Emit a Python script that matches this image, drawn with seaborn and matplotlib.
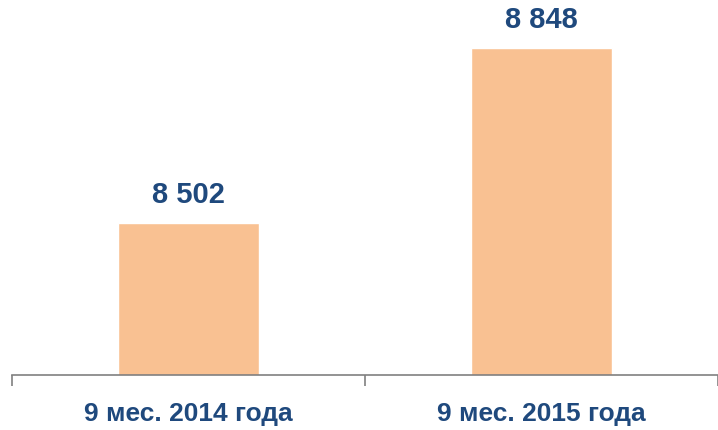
import matplotlib
matplotlib.use('Agg')
import matplotlib.pyplot as plt
import seaborn as sns
import pandas as pd

# данные
categories = ['9 мес. 2014 года', '9 мес. 2015 года']
values = [8502, 8848]
value_labels = ['8 502', '8 848']

bar_color = '#F9C192'
text_color = '#1F497D'

sns.set_style('white')
plt.rcParams['font.family'] = ['Liberation Sans', 'DejaVu Sans']

df = pd.DataFrame({'period': categories, 'value': values})

fig = plt.figure(figsize=(7.18, 4.31), dpi=100)
ax = fig.add_axes([0.0167, 0.1276, 0.9833, 0.8724])

sns.barplot(data=df, x='period', y='value', color=bar_color, width=0.4,
            saturation=1, ax=ax)

ax.set_ylim(8200, 8945)
ax.set_xlim(-0.5, 1.5)

for i, (v, lab) in enumerate(zip(values, value_labels)):
    ax.annotate(lab, (i, v), xytext=(0, 15), textcoords='offset pixels',
                ha='center', va='bottom', fontsize=21, fontweight='bold',
                color=text_color)

# рамка
for side in ['top', 'right', 'left']:
    ax.spines[side].set_visible(False)
ax.spines['bottom'].set_color('#808080')
ax.spines['bottom'].set_linewidth(1.2)

ax.set_yticks([])
ax.set_xticks([-0.5, 0.5, 1.5])
ax.set_xticklabels(['', '', ''])
ax.tick_params(axis='x', which='major', bottom=True, direction='out',
               length=8, width=1.2, color='#808080')
ax.set_xticks([0, 1], minor=True)
ax.set_xticklabels(categories, minor=True, fontsize=19, fontweight='bold',
                   color=text_color)
ax.tick_params(axis='x', which='minor', bottom=True, length=0, pad=19)
ax.set_xlabel('')
ax.set_ylabel('')

fig.savefig('out.png', dpi=100)
